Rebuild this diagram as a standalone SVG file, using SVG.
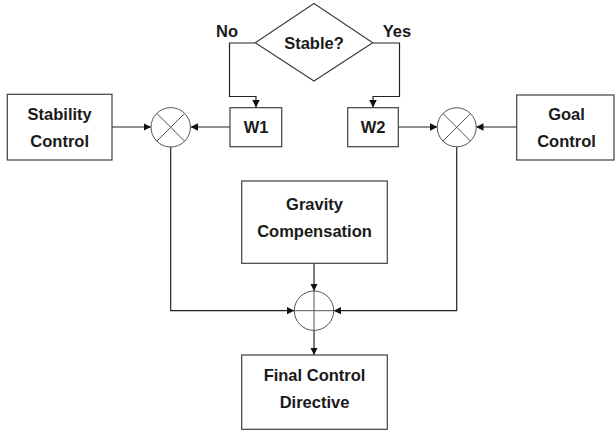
<svg xmlns="http://www.w3.org/2000/svg" width="616" height="433" viewBox="0 0 616 433">
<defs>
<style>
.box{fill:#fff;stroke:#404040;stroke-width:1.2}
.sum{fill:#fff;stroke:#555;stroke-width:1}
.mark{stroke:#555;stroke-width:1;fill:none}
.wire{fill:none;stroke:#222;stroke-width:1.2}
text{font-family:"Liberation Sans",Arial,sans-serif;font-weight:bold;font-size:16.5px;fill:#1a1a1a;text-anchor:middle}
</style>
<marker id="ah" viewBox="0 0 10 10" refX="10" refY="5" markerWidth="7.5" markerHeight="7.5" markerUnits="userSpaceOnUse" orient="auto">
<path d="M0,0 L10,5 L0,10 Z" fill="#111"/>
</marker>
</defs>
<rect width="616" height="433" fill="#fff"/>
<g id="connectors">
<path class="wire" d="M255,43 H229.5 V96.5 H256 V107.5" marker-end="url(#ah)"/>
<path class="wire" d="M373,43 H399.5 V96.5 H373 V107.5" marker-end="url(#ah)"/>
<path class="wire" d="M112,127 H151" marker-end="url(#ah)"/>
<path class="wire" d="M230,127 H190.7" marker-end="url(#ah)"/>
<path class="wire" d="M398,127 H437.3" marker-end="url(#ah)"/>
<path class="wire" d="M516.7,127 H476" marker-end="url(#ah)"/>
<path class="wire" d="M170.7,147 V310.7 H294.3" marker-end="url(#ah)"/>
<path class="wire" d="M456.7,147 V310.7 H333.7" marker-end="url(#ah)"/>
<path class="wire" d="M314,263.3 V291" marker-end="url(#ah)"/>
<path class="wire" d="M314,330.4 V355" marker-end="url(#ah)"/>
</g>
<g id="stable">
<polygon class="box" points="314,3.5 372.7,42.7 314,81 255.3,42.7"/>
<text x="314" y="48.5">Stable?</text>
</g>
<g id="label-no"><text x="227" y="37">No</text></g>
<g id="label-yes"><text x="397" y="37">Yes</text></g>
<g id="w1">
<rect class="box" x="230" y="107.7" width="51.7" height="39"/>
<text x="256" y="133">W1</text>
</g>
<g id="w2">
<rect class="box" x="347.7" y="107.7" width="50.6" height="39"/>
<text x="373" y="133">W2</text>
</g>
<g id="stability-control">
<rect class="box" x="7.3" y="94.3" width="104.7" height="65.7"/>
<text x="59.7" y="120">Stability</text>
<text x="59.7" y="147">Control</text>
</g>
<g id="goal-control">
<rect class="box" x="516.7" y="95" width="97.3" height="65"/>
<text x="566.5" y="120">Goal</text>
<text x="566.5" y="147">Control</text>
</g>
<g id="mult-left">
<circle class="sum" cx="170.7" cy="127.3" r="19.7"/>
<path class="mark" d="M156.8,113.4 L184.6,141.2 M184.6,113.4 L156.8,141.2"/>
</g>
<g id="mult-right">
<circle class="sum" cx="456.7" cy="127.3" r="19.5"/>
<path class="mark" d="M442.9,113.5 L470.5,141.1 M470.5,113.5 L442.9,141.1"/>
</g>
<g id="gravity">
<rect class="box" x="241.7" y="181" width="145.6" height="82.3"/>
<text x="314.5" y="210">Gravity</text>
<text x="314.5" y="237">Compensation</text>
</g>
<g id="sum">
<circle class="sum" cx="314" cy="310.7" r="19.7"/>
<path class="mark" d="M294.3,310.7 H333.7 M314,291 V330.4"/>
</g>
<g id="final">
<rect class="box" x="241.7" y="355" width="145.6" height="74.3"/>
<text x="314.5" y="381">Final Control</text>
<text x="314.5" y="407.5">Directive</text>
</g>
</svg>
